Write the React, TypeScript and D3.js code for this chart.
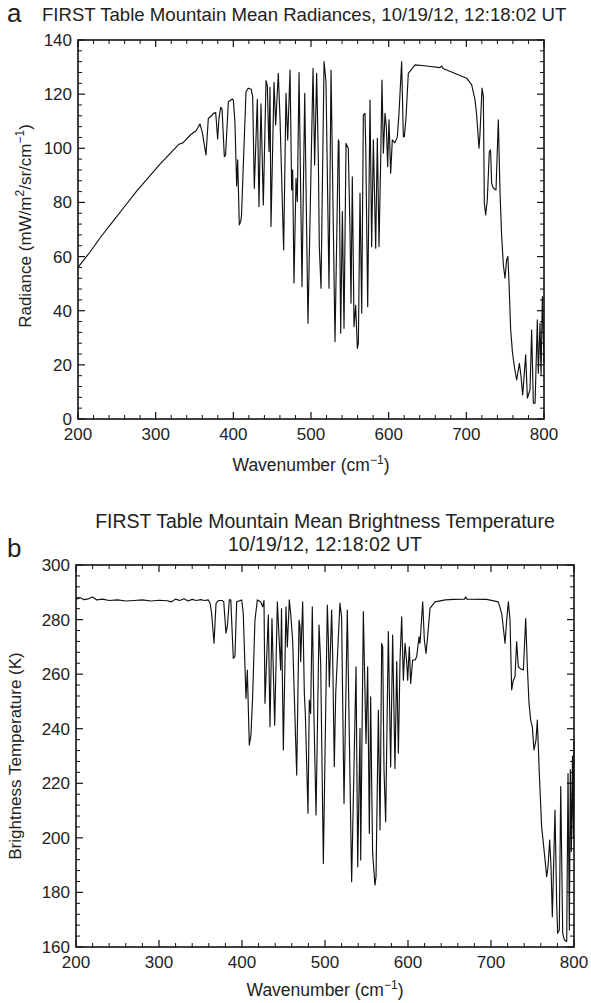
import React from "react";
import * as d3 from "d3";

// Panel a: mean radiance (wavenumber cm-1, mW/m2/sr/cm-1)
const radiance: [number, number][] = [
  [200,56],[215,61.5],[230,67.5],[245,73],[260,78.5],[275,84],[290,89],[305,94],[320,98.5],[330,101.5],[335,102],[345,105],[352,106.5],[357,109],
  [360,106],[364.8,97.5],[367.8,111],[372,112],[374.3,112.9],[377.3,113.2],[379.8,103.4],[381.5,111],[383.7,115.1],[385.5,114.5],[388.4,96.9],[390,97.5],
  [393.6,117.2],[398.7,118.2],[400,117.8],[402,110],[404.3,86.1],[405.6,95.7],[407.7,71.7],[409.4,72.9],[410.5,75],[416.3,120.9],[419.3,122.2],[423,121.8],
  [424.9,119.1],[427,85.2],[430.9,118.1],[433,78.5],[435.6,116.4],[438.6,79.1],[442.1,125],[443.8,123],[445.9,98.8],[447.2,122.5],[448.5,71.1],[452.4,124.4],
  [454.5,108.6],[457.9,127.7],[460.1,111.1],[464.8,62.5],[467.8,120.3],[470,103.1],[473,128.9],[475.1,84.6],[476.4,92],[478.1,50.2],[480.7,88.9],[482.4,80.3],
  [484.6,128],[488.4,48.9],[491.9,120.3],[496.1,35.4],[502.6,129.5],[504.7,93.8],[507.3,127.7],[509.5,95],[510.7,63.7],[512.9,48.3],[516.8,132],[519.3,124.6],
  [523.2,48.3],[525.8,128.9],[530.9,28.6],[535.2,103.1],[536,102.5],[538.2,31.7],[540.4,76.6],[542.5,33.5],[545.1,101.8],[548,100],[550.2,69.8],[551.5,42.8],
  [553.2,89.5],[555.4,34.1],[557.5,42],[559.7,26.1],[561,28],[563.1,83.4],[565.3,39.1],[567.4,112.3],[569.5,112.9],[570.5,100.5],[573,41.5],[576,117.8],
  [578.1,63.7],[580.3,103.1],[583.3,63.1],[585.4,103.7],[587.6,63.7],[589.7,95.1],[591.4,125.2],[593.2,98.2],[595.3,112.9],[597,107.9],[598.7,93.2],[600.4,110.5],
  [602.6,90.8],[604.7,103.1],[608,102],[611.2,104.3],[613.3,112.9],[616.7,132],[618.9,104.3],[620.2,104.3],[622.3,111.1],[625.3,127.7],[633.9,130.8],[648.9,130.4],
  [666,129.8],[668.3,130.4],[670,129.5],[683.3,127.9],[700.5,125.9],[706.9,123.4],[711.2,117.9],[713.3,112.3],[716.3,100],[717.5,104.9],[720.2,122.2],[721.9,119.1],
  [723.2,79.7],[724.9,75.4],[727,81],[729.6,98.8],[731.2,99.4],[732.6,87.1],[734.8,85.2],[738.2,84.6],[741.2,110.5],[743.4,83.4],[745.5,67.4],[747.7,56.9],
  [749.8,52],[751.9,58.8],[753.5,60],[754.9,50.8],[757.1,32.9],[759.3,24.9],[761.8,19.4],[764.8,14.4],[768.3,20.6],[770.4,15.8],[772.5,8.9],[774.2,15],
  [776.4,23.7],[778.6,7.7],[782,10.8],[784.1,32.9],[786.3,5.8],[788.5,5.8],[791.4,36.6],[792.7,16.9],[794.9,35.4],[796.2,16.3],[797.9,45.2],[800,20.6]
];

// Panel b: mean brightness temperature (wavenumber cm-1, K)
const brightness: [number, number][] = [
  [200,287.5],[205,288],[210,287.3],[215,287.6],[220,288.3],[225,287.2],[232,287.5],[240,287],[250,287.2],[260,286.8],[270,287],[280,287.2],[290,286.8],
  [300,287.1],[310,286.9],[315,286.5],[320,287.5],[325,287],[330,287.6],[335,286.8],[340,287.4],[345,287],[350,287.3],[355,287],[359.4,287.2],[361.5,286],
  [363.4,282.3],[366.3,271.3],[368.7,285.9],[372,287],[376,287],[378,286.5],[380.7,275],[382.5,278],[384.7,287.2],[386.5,287.2],[389.5,265.8],[391.5,266.5],
  [393.6,286.5],[399.6,287.2],[401.5,282.3],[404.8,251.1],[406.4,261.5],[408.8,234],[410.8,237.7],[412.8,251.7],[415.6,279.8],[418.5,287.2],[422.5,286.5],
  [424.9,284.7],[426.5,287],[427.7,249.3],[431.7,281.7],[433.7,240.7],[436.1,280.4],[439.4,241.3],[442.6,286.5],[444.6,273.7],[446.6,261.5],[447.6,284],
  [449.8,232.2],[453,284.7],[454.6,270],[457,287.2],[458.6,282.3],[461,272.5],[465.9,223],[468.7,279.8],[469.9,277.4],[470.7,264.6],[473.1,286.5],[475.1,252.9],
  [476.3,245.6],[479.5,209],[481.1,250.5],[482.7,245.6],[484.7,284.7],[486.7,244.4],[489.2,208.4],[492.8,278],[494.8,264],[498,190.6],[502.8,285.3],[504,273.7],
  [505.2,255.4],[508,283.5],[509.2,267.6],[511.2,226.1],[512.9,253],[518,286],[520,281],[522.9,212.6],[526.9,283.5],[532.1,183.9],[537.4,262.7],[539.4,189.4],
  [542.2,240.1],[543,191.9],[546.2,282.9],[549.4,234.6],[551.4,262.7],[553.4,201.6],[555,251.7],[556.2,221],[557.4,194.3],[560.2,182.7],[561.5,185.8],
  [564.3,246.8],[566.3,202.9],[568.3,271.3],[569.5,270],[571.1,224.8],[573.1,205.9],[576.3,275.6],[579.1,226],[581.5,274.3],[584.3,225.4],[586.4,264.6],
  [588.4,231],[590.4,265.2],[592.4,281],[594.4,257.8],[596.4,271.3],[598.4,264.6],[599.6,257.8],[601.6,270],[603.2,256.6],[605.6,265.2],[608.5,265.2],
  [610.5,266.4],[613.3,273.7],[614.5,271.3],[617.7,286.5],[619.7,272.5],[621.7,267.6],[623.3,272.5],[626.5,284.1],[632.5,286.5],[645,287.2],[654.6,287.4],
  [668,287.5],[669.5,288.3],[671,287.5],[694.8,287.4],[708.8,286.5],[712.9,282.3],[716.9,271.3],[718.9,279.8],[720.9,286.5],[722.9,279.8],[724.9,254.2],
  [726.9,257.8],[728.9,259],[730.9,271.9],[732.9,262.7],[735,262.1],[739,261.5],[741.8,280.4],[743.8,262.7],[745.8,249.3],[747.8,243.2],[749.8,240.7],
  [751.8,232.2],[754.2,235.8],[755.8,243.2],[758.2,223.6],[761,204.1],[763.9,195.6],[767.1,185.8],[768.7,189.4],[770.7,199.2],[772.3,189.4],[773.9,171.1],
  [777.1,210.2],[779.1,176],[780.3,165],[782.3,166.2],[784,218.8],[786.4,165],[788.4,162.6],[791.2,162],[792.8,223.6],[794.4,166.2],[795.6,225],[796.8,195],
  [798.2,230],[799.2,200],[800,236]
];

const xTicks = [200, 300, 400, 500, 600, 700, 800];
const radTicks = [0, 20, 40, 60, 80, 100, 120, 140];
const btTicks = [160, 180, 200, 220, 240, 260, 280, 300];

const FONT = "'Liberation Sans', Arial, Helvetica, sans-serif";

type PanelProps = {
  data: [number, number][];
  left: number; right: number; top: number; bottom: number;
  yDomain: [number, number];
  yTicks: number[];
  xMinor: number; yMinor: number;
  xTitleGap: number;
};

function Panel({ data, left, right, top, bottom, yDomain, yTicks, xMinor, yMinor, xTitleGap }: PanelProps) {
  const x = d3.scaleLinear().domain([200, 800]).range([left, right]);
  const y = d3.scaleLinear().domain(yDomain).range([bottom, top]);
  const line = d3.line<[number, number]>().x(d => x(d[0])).y(d => y(d[1])).curve(d3.curveLinear);
  const xm = d3.range(200, 800.001, xMinor).filter(v => !xTicks.includes(Math.round(v)));
  const ym = d3.range(yDomain[0], yDomain[1] + 0.001, yMinor).filter(v => !yTicks.includes(Math.round(v)));
  const MAJ = 7, MIN = 4;
  return (
    <g>
      <path d={line(data) || ""} fill="none" stroke="#111" strokeWidth={1.15} strokeLinejoin="round" />
      {xTicks.map(t => (
        <g key={"xt" + t}>
          <line x1={x(t)} x2={x(t)} y1={bottom} y2={bottom - MAJ} stroke="#111" strokeWidth={1.2} />
          <line x1={x(t)} x2={x(t)} y1={top} y2={top + MAJ} stroke="#111" strokeWidth={1.2} />
          <text x={x(t)} y={bottom + 21} textAnchor="middle" fontSize={17} fontFamily={FONT} fill="#222">{t}</text>
        </g>
      ))}
      {xm.map(t => (
        <g key={"xm" + t}>
          <line x1={x(t)} x2={x(t)} y1={bottom} y2={bottom - MIN} stroke="#111" strokeWidth={1} />
          <line x1={x(t)} x2={x(t)} y1={top} y2={top + MIN} stroke="#111" strokeWidth={1} />
        </g>
      ))}
      {yTicks.map(t => (
        <g key={"yt" + t}>
          <line x1={left} x2={left + MAJ} y1={y(t)} y2={y(t)} stroke="#111" strokeWidth={1.2} />
          <line x1={right} x2={right - MAJ} y1={y(t)} y2={y(t)} stroke="#111" strokeWidth={1.2} />
          <text x={left - 6} y={y(t) + 6} textAnchor="end" fontSize={17} fontFamily={FONT} fill="#222">{t}</text>
        </g>
      ))}
      {ym.map(t => (
        <g key={"ym" + t}>
          <line x1={left} x2={left + MIN} y1={y(t)} y2={y(t)} stroke="#111" strokeWidth={1} />
          <line x1={right} x2={right - MIN} y1={y(t)} y2={y(t)} stroke="#111" strokeWidth={1} />
        </g>
      ))}
      <rect x={left} y={top} width={right - left} height={bottom - top} fill="none" stroke="#111" strokeWidth={1.6} />
      <text x={(left + right) / 2} y={bottom + xTitleGap} textAnchor="middle" fontSize={17.5} fontFamily={FONT} fill="#222">
        Wavenumber (cm<tspan dy={-7} fontSize={12}>−1</tspan><tspan dy={7}>)</tspan>
      </text>
    </g>
  );
}

export default function App() {
  return (
    <svg width={591} height={1003} style={{ position: "absolute", left: 0, top: 0, background: "#fff" }}>
      <rect width={591} height={1003} fill="#fff" />
      <text x={7} y={22} fontSize={26} fontFamily={FONT} fill="#222">a</text>
      <text x={42} y={21} fontSize={18.6} fontFamily={FONT} fill="#222">FIRST Table Mountain Mean Radiances, 10/19/12, 12:18:02 UT</text>
      <Panel data={radiance} left={78} right={544} top={40} bottom={419} yDomain={[0, 140]} yTicks={radTicks} xMinor={20} yMinor={4} xTitleGap={52} />
      <text transform="translate(31,226) rotate(-90)" textAnchor="middle" fontSize={17} fontFamily={FONT} fill="#222">
        Radiance (mW/m<tspan dy={-7} fontSize={12}>2</tspan><tspan dy={7}>/sr/cm</tspan><tspan dy={-7} fontSize={12}>−1</tspan><tspan dy={7}>)</tspan>
      </text>

      <text x={325} y={528} textAnchor="middle" fontSize={19.5} fontFamily={FONT} fill="#222">FIRST Table Mountain Mean Brightness Temperature</text>
      <text x={325} y={551} textAnchor="middle" fontSize={19.5} fontFamily={FONT} fill="#222">10/19/12, 12:18:02 UT</text>
      <text x={7} y={557} fontSize={26} fontFamily={FONT} fill="#222">b</text>
      <Panel data={brightness} left={76} right={574} top={565} bottom={947} yDomain={[160, 300]} yTicks={btTicks} xMinor={20} yMinor={4} xTitleGap={49} />
      <text transform="translate(21,756) rotate(-90)" textAnchor="middle" fontSize={17} fontFamily={FONT} fill="#222">
        Brightness Temperature (K)
      </text>
    </svg>
  );
}
